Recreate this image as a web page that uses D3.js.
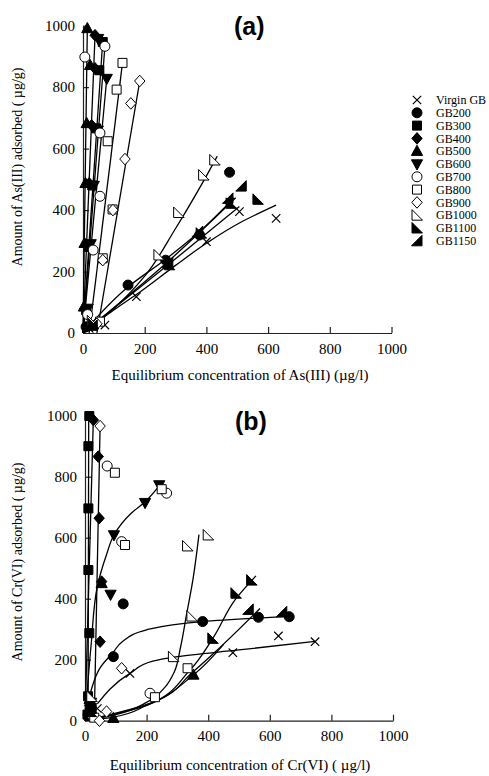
<!DOCTYPE html>
<html><head><meta charset="utf-8">
<script src="https://cdn.jsdelivr.net/npm/d3@7"></script>
<style>body{margin:0;background:#fff}svg{display:block}</style>
</head><body>
<script>
// ---------- DATA ----------
const tickValues = [0, 200, 400, 600, 800, 1000];
const seriesNames = ["Virgin GB","GB200","GB300","GB400","GB500","GB600","GB700","GB800","GB900","GB1000","GB1100","GB1150"];

// Panel (a): As(III)
const asVirgin = [[20,15],[71,26],[173,118],[400,297],[507,395],[626,373]];
const asVirginFit = [[0,0],[100,75],[173,125],[300,220],[400,292],[507,358],[626,416]];
const as200 = [[10,20],[146,156],[268,237],[378,319],[475,523]];
const as200Fit = [[0,0],[146,150],[268,240],[378,330],[490,440]];
const as300 = [[10,75],[20,280],[30,480],[42,666],[53,855],[64,947]];
const as300Fit = [[0,0],[64,950]];
const as400 = [[6,80],[12,285],[20,487],[28,676],[39,861],[39,969]];
const as400Fit = [[0,0],[39,969]];
const as500 = [[3,85],[5,292],[8,487],[12,682],[23,871],[14,991]];
const as500Fit = [[0,0],[14,991]];
const as600 = [[15,80],[25,290],[35,480],[48,660],[77,828],[49,958]];
const as600Fit = [[0,0],[77,828]];
const as700 = [[15,60],[33,270],[55,445],[55,651],[6,898],[71,933]];
const as700Fit = [[0,0],[71,933]];
const as800 = [[55,37],[64,243],[96,402],[80,624],[109,792],[128,879]];
const as800Fit = [[20,0],[128,879]];
const as900 = [[45,30],[64,237],[97,400],[136,566],[155,747],[184,820]];
const as900Fit = [[45,0],[184,820]];
const as1000 = [[30,40],[246,254],[310,392],[391,514],[427,563]];
const as1000Fit = [[0,0],[100,80],[200,185],[300,340],[391,495],[435,575]];
const as1100 = [[33,30],[280,222],[383,325],[480,422],[567,435]];
const as1100Fit = [[0,0],[280,225],[507,412]];
const as1150 = [[30,25],[275,228],[372,330],[513,478],[470,438]];
const as1150Fit = [[0,0],[275,232],[495,440]];

// Panel (b): Cr(VI)
const crVirgin = [[40,40],[146,155],[480,223],[628,278],[747,259]];
const crVirginFit = [[40,55],[146,155],[220,195],[300,210],[500,232],[747,260]];
const cr200 = [[10,20],[92,210],[124,383],[382,325],[563,339],[663,341]];
const cr200Fit = [[0,0],[20,100],[50,175],[92,225],[120,258],[200,298],[380,325],[663,342]];
const cr300 = [[8,20],[10,80],[14,287],[11,494],[11,696],[11,900],[14,999]];
const cr300Fit = [[10,0],[12,1000]];
const cr400 = [[15,50],[49,259],[54,456],[46,664],[43,866],[27,986]];
const cr400Fit = [[0,0],[27,986]];
const cr500 = [[15,70],[92,8],[352,150],[54,450]];
const cr500Fit = [[0,0],[92,12],[200,50],[352,150],[450,250]];
const cr600 = [[20,60],[83,414],[94,609],[195,715],[241,773]];
const cr600Fit = [[0,0],[20,250],[40,440],[70,545],[94,609],[150,680],[195,718],[245,775]];
const cr700 = [[25,15],[211,90],[119,587],[72,835],[265,746]];
const cr800 = [[30,10],[227,77],[333,172],[130,576],[97,813],[249,759]];
const cr900 = [[47,0],[70,30],[119,172],[49,966]];
const cr900Fit = [[30,0],[49,966]];
const cr1000 = [[22,79],[287,210],[347,343],[333,573],[400,609]];
const cr1000Fit = [[0,0],[100,20],[200,60],[260,110],[290,160],[310,240],[330,350],[350,460],[370,610]];
const cr1100 = [[20,30],[415,270],[490,418],[541,461]];
const cr1100Fit = [[0,0],[200,50],[340,165],[415,270],[490,400],[555,475]];
const cr1150 = [[20,40],[530,365],[639,357]];
const cr1150Fit = [[0,0],[220,60],[350,160],[436,238],[568,368]];

// ---------- STYLE ----------
const shapes = ["cross","circle","square","diamond","triUp","triDown","circle","square","diamond","rtBL","rtBL","rtBR"];
const filled = [false,true,true,true,true,true,false,false,false,false,true,true];

function shapePath(s){
  switch(s){
    case "circle": return "M5,0A5,5 0 1,1 -5,0A5,5 0 1,1 5,0Z";
    case "square": return "M-4.5,-4.5H4.5V4.5H-4.5Z";
    case "diamond": return "M0,-5.8L5.2,0L0,5.8L-5.2,0Z";
    case "triUp": return "M0,-6L5.6,4.2L-5.6,4.2Z";
    case "triDown": return "M0,6L5.6,-4.2L-5.6,-4.2Z";
    case "rtBL": return "M-5,-5.5L-5,5L5.5,5Z";
    case "rtBR": return "M5,-5.5L5,5L-5.5,5Z";
    case "cross": return "M-4.2,-4.2L4.2,4.2M-4.2,4.2L4.2,-4.2";
  }
}

const W = 489, H = 776;
const svg = d3.select("body").append("svg").attr("width", W).attr("height", H);
const serif = "'Liberation Serif','Times New Roman',serif";

function drawPanel(cfg){
  const x = d3.scaleLinear().domain([0,1000]).range(cfg.xr);
  const y = d3.scaleLinear().domain([0,1000]).range(cfg.yr);
  const g = svg.append("g");
  const fmt = d3.format("d");
  const ax = g.append("g").attr("transform",`translate(0,${cfg.yr[0]})`)
    .call(d3.axisBottom(x).tickValues(tickValues).tickFormat(fmt).tickSize(-6).tickPadding(10).tickSizeOuter(0));
  const ay = g.append("g").attr("transform",`translate(${cfg.xr[0]},0)`)
    .call(d3.axisLeft(y).tickValues(tickValues).tickFormat(fmt).tickSize(-6).tickPadding(8).tickSizeOuter(0));
  [ax, ay].forEach(a => {
    a.attr("font-family", null);
    a.selectAll("path,line").attr("stroke","#222").attr("stroke-width",1.2);
    a.selectAll("text").style("font-family",serif).style("font-size","15px").attr("fill","#000");
  });
  ay.selectAll(".tick").filter(d => d===0).select("line").remove();
  ax.selectAll(".tick").filter(d => d===0).select("line").remove();

  const line = d3.line().x(d=>x(d[0])).y(d=>y(d[1])).curve(d3.curveMonotoneY);
  cfg.series.forEach((s,i) => {
    if (s.fit) {
      const fitSorted = s.fit.slice().sort((a,b)=>a[1]-b[1]);
      g.append("path").attr("d", line(fitSorted)).attr("fill","none")
        .attr("stroke","#000").attr("stroke-width",1.3);
    }
  });
  cfg.series.forEach((s,i) => {
    g.selectAll(null).data(s.pts).join("path")
      .attr("transform", d => `translate(${x(d[0])},${y(d[1])})`)
      .attr("d", shapePath(shapes[i]))
      .attr("fill", shapes[i]==="cross" ? "none" : (filled[i] ? "#000" : "#fff"))
      .attr("stroke","#000").attr("stroke-width", shapes[i]==="cross" ? 1.2 : 1);
  });
  g.append("text").attr("x", cfg.xlabX).attr("y", cfg.xlabY)
    .attr("text-anchor","middle").style("font-family",serif).style("font-size","15px").text(cfg.xlab);
  g.append("text").attr("transform",`translate(${cfg.ylabX},${cfg.ylabY}) rotate(-90)`)
    .attr("text-anchor","middle").style("font-family",serif).style("font-size","14px").text(cfg.ylab);
  g.append("text").attr("x", cfg.titleX).attr("y", cfg.titleY)
    .style("font-family","'Liberation Sans',Arial,sans-serif").style("font-weight","bold")
    .style("font-size","25px").text(cfg.title);
}

drawPanel({
  xr:[83,391.5], yr:[333,25.7],
  series:[
    {pts:asVirgin,fit:asVirginFit},{pts:as200,fit:as200Fit},{pts:as300,fit:as300Fit},
    {pts:as400,fit:as400Fit},{pts:as500,fit:as500Fit},{pts:as600,fit:as600Fit},
    {pts:as700,fit:as700Fit},{pts:as800,fit:as800Fit},{pts:as900,fit:as900Fit},
    {pts:as1000,fit:as1000Fit},{pts:as1100,fit:as1100Fit},{pts:as1150,fit:as1150Fit}
  ],
  xlab:"Equilibrium concentration of As(III) (\u00b5g/l)", xlabX:240, xlabY:380,
  ylab:"Amount of As(III) adsorbed ( \u00b5g/g)", ylabX:22, ylabY:167,
  title:"(a)", titleX:234, titleY:35
});
drawPanel({
  xr:[85,393], yr:[720.7,415.7],
  series:[
    {pts:crVirgin,fit:crVirginFit},{pts:cr200,fit:cr200Fit},{pts:cr300,fit:cr300Fit},
    {pts:cr400,fit:cr400Fit},{pts:cr500,fit:cr500Fit},{pts:cr600,fit:cr600Fit},
    {pts:cr700,fit:null},{pts:cr800,fit:null},{pts:cr900,fit:cr900Fit},
    {pts:cr1000,fit:cr1000Fit},{pts:cr1100,fit:cr1100Fit},{pts:cr1150,fit:cr1150Fit}
  ],
  xlab:"Equilibrium concentration of Cr(VI) ( \u00b5g/l)", xlabX:240, xlabY:770,
  ylab:"Amount of Cr(VI) adsorbed ( \u00b5g/g)", ylabX:22, ylabY:562,
  title:"(b)", titleX:235, titleY:430
});

const leg = svg.append("g");
seriesNames.forEach((n,i) => {
  const yy = 100 + i*12.8;
  leg.append("path").attr("transform",`translate(417,${yy})`).attr("d", shapePath(shapes[i]))
    .attr("fill", shapes[i]==="cross" ? "none" : (filled[i] ? "#000" : "#fff"))
    .attr("stroke","#000").attr("stroke-width", shapes[i]==="cross" ? 1.2 : 1);
  leg.append("text").attr("x",436).attr("y",yy).attr("dy","0.35em")
    .style("font-family",serif).style("font-size","12px").text(n);
});
</script>
</body></html>
